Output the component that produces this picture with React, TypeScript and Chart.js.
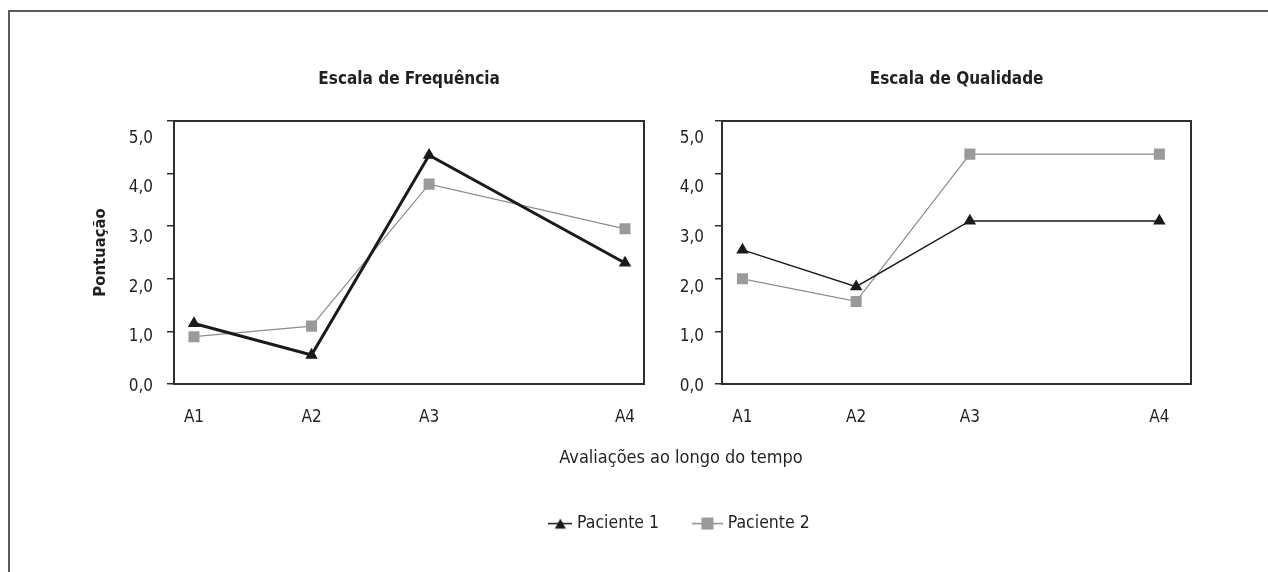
import React, { useEffect, useRef } from 'react';
import { Chart, registerables } from 'chart.js';

Chart.register(...registerables);

// ---------------- data ----------------
const categories = ['A1', 'A2', 'A3', 'A4'];
const timePoints = [0, 3, 6, 11];
const yTickValues = [0, 1, 2, 3, 4, 5];
const seriesNames = ['Paciente 1', 'Paciente 2'];
const panelTitles = ['Escala de Frequência', 'Escala de Qualidade'];
const yAxisTitle = 'Pontuação';
const xAxisTitle = 'Avaliações ao longo do tempo';

const freqPaciente1 = [1.15, 0.55, 4.35, 2.3];
const freqPaciente2 = [0.9, 1.1, 3.8, 2.95];
const qualPaciente1 = [2.55, 1.85, 3.1, 3.1];
const qualPaciente2 = [2.0, 1.57, 4.37, 4.37];

// ---------------- style ----------------
const FONT = "'DejaVu Sans Condensed', 'Liberation Sans Narrow', 'Liberation Sans', sans-serif";
const TEXT = '#231f20';
const AXIS = '#2e2e2e';
const P1 = '#1a1a1a';
const P2_LINE = '#8c8c8c';
const P2_MARK = '#9a9a9c';

const font = (size: number, weight: string = 'normal') => ({ family: FONT, size, weight });
const fmtY = (v: any) => Number(v).toFixed(1).replace('.', ',');

type PanelSpec = {
  title: string;
  p1: number[];
  p2: number[];
  p1Width: number;
  xMin: number;
  xMax: number;
  labelMax: number;
  yLabelWidth: number;
  labelPad: number;
  showYTitle: boolean;
};

const leftSpec: PanelSpec = {
  title: panelTitles[0],
  p1: freqPaciente1,
  p2: freqPaciente2,
  p1Width: 3,
  xMin: -0.51,
  xMax: 11.49,
  labelMax: 5.3,
  yLabelWidth: 83,
  labelPad: 14,
  showYTitle: true,
};

const rightSpec: PanelSpec = {
  title: panelTitles[1],
  p1: qualPaciente1,
  p2: qualPaciente2,
  p1Width: 1.5,
  xMin: -0.54,
  xMax: 11.84,
  labelMax: 5.3,
  yLabelWidth: 45,
  labelPad: 11,
  showYTitle: false,
};

const setTicks = (values: number[]) => (scale: any) => {
  scale.ticks = values.map((v) => ({ value: v }));
};

const fixBox = (w: number | null, h: number | null) => (s: any) => {
  if (w !== null) s.width = w;
  if (h !== null) s.height = h;
  s.paddingLeft = 0;
  s.paddingRight = 0;
  s.paddingTop = 0;
  s.paddingBottom = 0;
};

function panelConfig(spec: PanelSpec): any {
  return {
    type: 'line',
    data: {
      datasets: [
        {
          label: seriesNames[0],
          data: timePoints.map((t, i) => ({ x: t, y: spec.p1[i] })),
          borderColor: P1,
          backgroundColor: P1,
          borderWidth: spec.p1Width,
          pointStyle: 'triangle',
          pointRadius: 7.2,
          pointHoverRadius: 7.2,
          pointBorderWidth: 0,
          pointBackgroundColor: P1,
          tension: 0,
          xAxisID: 'x',
          yAxisID: 'y',
        },
        {
          label: seriesNames[1],
          data: timePoints.map((t, i) => ({ x: t, y: spec.p2[i] })),
          borderColor: P2_LINE,
          backgroundColor: P2_MARK,
          borderWidth: 1.2,
          pointStyle: 'rect',
          pointRadius: 7.8,
          pointHoverRadius: 7.8,
          pointBorderWidth: 0,
          pointBackgroundColor: P2_MARK,
          tension: 0,
          xAxisID: 'x',
          yAxisID: 'y',
        },
      ],
    },
    options: {
      responsive: false,
      animation: false,
      events: [],
      layout: { padding: { left: 0, right: 0, top: 0, bottom: 0 } },
      plugins: {
        legend: { display: false },
        tooltip: { enabled: false },
        title: {
          display: true,
          text: spec.title,
          fullSize: false,
          font: font(17, 'bold'),
          color: TEXT,
          padding: { top: 9.8, bottom: 30.8 },
        },
      },
      scales: {
        x: {
          type: 'linear',
          position: 'bottom',
          min: spec.xMin,
          max: spec.xMax,
          afterBuildTicks: setTicks(timePoints),
          afterFit: fixBox(null, 60),
          ticks: {
            callback: (v: any) => {
              const i = timePoints.indexOf(Number(v));
              return i >= 0 ? categories[i] : '';
            },
            font: font(17),
            color: TEXT,
            padding: 23.3,
            maxRotation: 0,
            autoSkip: false,
          },
          grid: { display: false, drawTicks: false },
          border: { display: true, color: AXIS, width: 2 },
        },
        xTop: {
          type: 'linear',
          position: 'top',
          min: spec.xMin,
          max: spec.xMax,
          afterFit: fixBox(null, 0),
          ticks: { display: false },
          grid: { display: false, drawTicks: false },
          border: { display: true, color: AXIS, width: 2 },
        },
        y: {
          type: 'linear',
          position: 'left',
          weight: 0,
          min: 0,
          max: 5,
          afterBuildTicks: setTicks(yTickValues),
          afterFit: fixBox(7, null),
          ticks: { display: false },
          grid: {
            display: true,
            drawOnChartArea: false,
            drawTicks: true,
            tickLength: 7,
            color: AXIS,
            lineWidth: 1.5,
          },
          border: { display: true, color: AXIS, width: 2 },
        },
        yLabels: {
          type: 'linear',
          position: 'left',
          weight: 1,
          min: 0,
          max: spec.labelMax,
          afterBuildTicks: setTicks(yTickValues),
          afterFit: fixBox(spec.yLabelWidth, null),
          ticks: {
            callback: fmtY,
            font: font(17),
            color: TEXT,
            padding: spec.labelPad,
            labelOffset: 2.5,
            autoSkip: false,
          },
          grid: { display: false, drawTicks: false },
          border: { display: false },
          title: {
            display: spec.showYTitle,
            text: yAxisTitle,
            font: font(16.5, 'bold'),
            color: TEXT,
            padding: { top: 6.4, bottom: 0 },
          },
        },
        yRight: {
          type: 'linear',
          position: 'right',
          min: 0,
          max: 5,
          afterFit: fixBox(0, null),
          ticks: { display: false },
          grid: { display: false, drawTicks: false },
          border: { display: true, color: AXIS, width: 2 },
        },
      },
    },
  };
}

function makeSwatch(kind: 'triangle' | 'rect'): HTMLCanvasElement {
  const c = document.createElement('canvas');
  const lineW = kind === 'triangle' ? 24 : 31;
  const w = kind === 'triangle' ? 24 : 38;
  c.width = w;
  c.height = 13;
  const ctx = c.getContext('2d')!;
  ctx.lineWidth = 1.5;
  ctx.strokeStyle = kind === 'triangle' ? P1 : P2_LINE;
  ctx.beginPath();
  ctx.moveTo(0, 6.5);
  ctx.lineTo(lineW, 6.5);
  ctx.stroke();
  const cx = lineW / 2;
  if (kind === 'triangle') {
    ctx.fillStyle = P1;
    ctx.beginPath();
    ctx.moveTo(cx, 1.5);
    ctx.lineTo(cx + 5.5, 11.5);
    ctx.lineTo(cx - 5.5, 11.5);
    ctx.closePath();
    ctx.fill();
  } else {
    ctx.fillStyle = P2_MARK;
    ctx.fillRect(cx - 6, 0.5, 12, 12);
  }
  return c;
}

function legendConfig(): any {
  const swatches = [makeSwatch('triangle'), makeSwatch('rect')];
  return {
    type: 'line',
    data: {
      datasets: [
        { label: seriesNames[0], data: [], borderColor: P1, backgroundColor: P1 },
        { label: seriesNames[1], data: [], borderColor: P2_LINE, backgroundColor: P2_MARK },
      ],
    },
    options: {
      responsive: false,
      animation: false,
      events: [],
      layout: { padding: { left: 0, right: 0, top: 0, bottom: 8.25 } },
      plugins: {
        tooltip: { enabled: false },
        title: { display: false },
        legend: {
          display: true,
          position: 'bottom',
          labels: {
            usePointStyle: true,
            pointStyleWidth: 16,
            padding: 44,
            font: font(17.5),
            color: TEXT,
            generateLabels: (chart: any) =>
              chart.data.datasets.map((ds: any, i: number) => ({
                text: ds.label,
                pointStyle: swatches[i],
                fillStyle: ds.backgroundColor,
                strokeStyle: ds.borderColor,
                lineWidth: 0,
                hidden: false,
                datasetIndex: i,
                fontColor: TEXT,
              })),
          },
        },
      },
      scales: {
        x: {
          type: 'linear',
          display: true,
          ticks: { display: false },
          grid: { display: false, drawTicks: false },
          border: { display: false },
          title: {
            display: true,
            text: xAxisTitle,
            font: font(18),
            color: TEXT,
            padding: { top: 0, bottom: 1.5 },
          },
        },
        y: { display: false },
      },
    },
  };
}

export default function App() {
  const leftRef = useRef<HTMLCanvasElement>(null);
  const rightRef = useRef<HTMLCanvasElement>(null);
  const legendRef = useRef<HTMLCanvasElement>(null);

  useEffect(() => {
    const charts = [
      new Chart(leftRef.current as HTMLCanvasElement, panelConfig(leftSpec)),
      new Chart(rightRef.current as HTMLCanvasElement, panelConfig(rightSpec)),
      new Chart(legendRef.current as HTMLCanvasElement, legendConfig()),
    ];
    return () => charts.forEach((c) => c.destroy());
  }, []);

  return (
    <div>
      <div
        style={{
          position: 'absolute',
          left: 8,
          top: 10,
          width: 1260,
          height: 562,
          boxSizing: 'border-box',
          borderTop: '2px solid #5a5a5a',
          borderLeft: '2px solid #5a5a5a',
        }}
      />
      <canvas ref={leftRef} width={568} height={384} style={{ position: 'absolute', left: 84, top: 60 }} />
      <canvas ref={rightRef} width={529} height={384} style={{ position: 'absolute', left: 670, top: 60 }} />
      <canvas ref={legendRef} width={600} height={150} style={{ position: 'absolute', left: 381, top: 400 }} />
    </div>
  );
}
